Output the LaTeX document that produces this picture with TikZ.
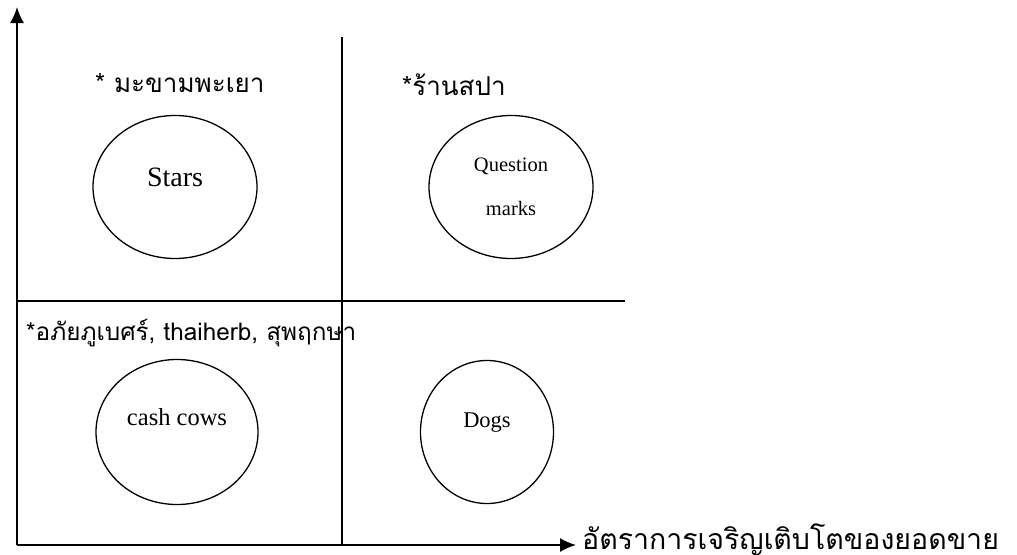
\documentclass[tikz,border=0pt]{standalone}
\usepackage{fontspec}
\setmainfont{Liberation Serif}
\newfontfamily\thaifont[Script=Thai]{Loma}
\usetikzlibrary{arrows.meta,shapes.geometric}

\begin{document}
\begin{tikzpicture}[x=1pt,y=-1pt,>={Latex[length=16pt,width=14pt]},
  quad/.style={ellipse,draw,line width=1.3pt,inner sep=0pt},
  note/.style={anchor=west,inner sep=0pt,font=\thaifont\fontsize{26}{30}\selectfont},
  grid/.style={line width=1.7pt}]
  \useasboundingbox (0,0) rectangle (1017,554);
  % axes and the two dividing lines of the matrix
  \coordinate (o) at (17,545);
  \coordinate (ytip) at (17,7);
  \coordinate (vtop) at (342,37);
  \coordinate (vbot) at (342,545);
  \coordinate (hl) at (17,301);
  \coordinate (hr) at (625,301);
  \node[anchor=west,inner sep=0pt,font=\thaifont\fontsize{28.5}{32}\selectfont]
    (xlabel) at (582,540) {อัตราการเจริญเติบโตของยอดขาย};
  \draw[grid,->] (o) -- (ytip);
  \draw[grid,->] (o) -- ([xshift=-6pt,yshift=-5pt]xlabel.west);
  \draw[grid] (vtop) -- (vbot);
  \draw[grid] (hl) -- (hr);
  % the four quadrants
  \node[quad,minimum width=164pt,minimum height=143pt,
    label={[yshift=10pt,font=\fontsize{28}{32}\selectfont]center:Stars}]
    (stars) at (175,187) {};
  \node[quad,minimum width=164pt,minimum height=143pt,align=center,font=\fontsize{20.5}{24}\selectfont]
    (question) at (511,187) {Question\\[20pt]marks};
  \node[quad,minimum width=162pt,minimum height=145pt,
    label={[yshift=15pt,font=\fontsize{24.5}{28}\selectfont]center:cash cows}]
    (cows) at (177,432) {};
  \node[quad,minimum width=133pt,minimum height=143pt,
    label={[yshift=9pt,font=\fontsize{22.5}{26}\selectfont]center:Dogs}]
    (dogs) at (487,432) {};
  % products placed in each quadrant
  \node[note] (starnote) at (95,83) {* มะขามพะเยา};
  \node[note] (qnote) at (402,85) {*ร้านสปา};
  \node[note,font=\thaifont\fontsize{24.3}{28}\selectfont] (cownote) at (26,333)
    {*อภัยภูเบศร์, thaiherb, สุพฤกษา};
\end{tikzpicture}
\end{document}
